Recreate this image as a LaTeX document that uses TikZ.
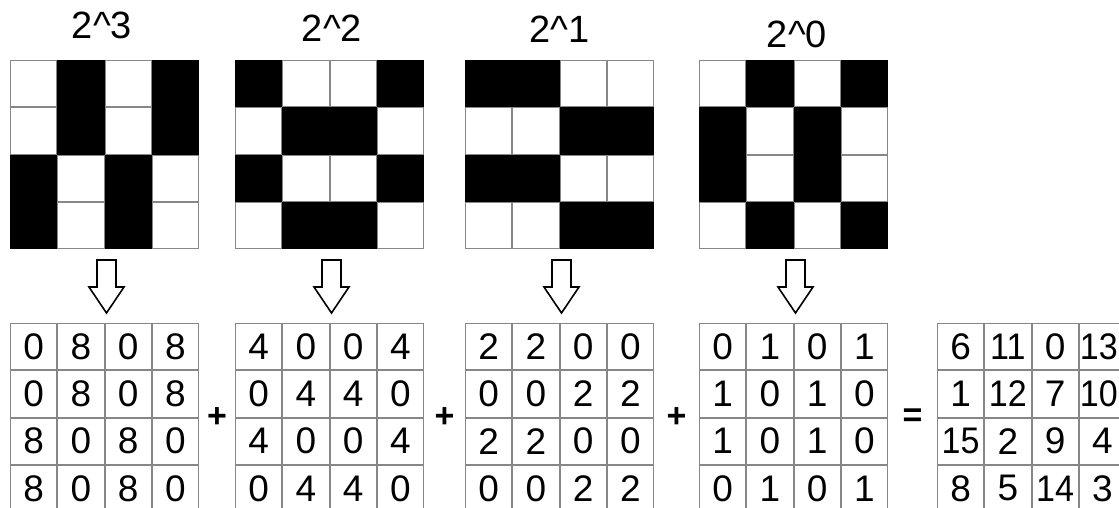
\documentclass[tikz,border=0pt]{standalone}
\usepackage{fontspec}
\setmainfont{Liberation Sans}
\newfontfamily\narrowfont{Liberation Sans}[FakeStretch=0.92]
\usetikzlibrary{positioning,calc,matrix}
\definecolor{gridgray}{RGB}{135,135,135}
\tikzset{
  cellgrid/.style={matrix of nodes, ampersand replacement=\amp, nodes in empty cells,
                   row sep=0pt, column sep=0pt, inner sep=0pt, outer sep=0pt,
                   nodes={draw=gridgray, line width=0.9pt, minimum width=46.35pt,
                          minimum height=46.35pt, inner sep=0pt, outer sep=0pt,
                          anchor=center, font=\fontsize{37}{37}\selectfont}},
  bitgrid/.style={cellgrid},
  numgrid/.style={cellgrid},
  on/.style={fill=black, draw=black},
  dd/.style={font=\narrowfont\fontsize{37}{37}\selectfont},
  ddr/.style={dd, execute at begin node={\kern-7pt}},
  powlbl/.style={font=\fontsize{38}{38}\selectfont, anchor=base, inner sep=0pt},
  op/.style={font=\bfseries\fontsize{34}{34}\selectfont, inner sep=0pt},
  blockarrow/.style={draw=black, fill=white, line width=1.6pt, line join=miter}
}

\begin{document}
\begin{tikzpicture}[x=1pt, y=-1pt]
\useasboundingbox (0,0) rectangle (1119,508);
\clip (0,0) rectangle (1119,508);
% bit planes
\matrix (t1) [bitgrid, anchor=north west, at={(10,60)}] {
  \amp |[on]| \amp \amp |[on]| \\
  \amp |[on]| \amp \amp |[on]| \\
  |[on]| \amp \amp |[on]| \amp \\
  |[on]| \amp \amp |[on]| \amp \\
};
\matrix (t2) [bitgrid, anchor=north west, at={($(t1.north east)+(36,0)$)}] {
  |[on]| \amp \amp \amp |[on]| \\
  \amp |[on]| \amp |[on]| \amp \\
  |[on]| \amp \amp \amp |[on]| \\
  \amp |[on]| \amp |[on]| \amp \\
};
\matrix (t3) [bitgrid, anchor=north west, at={($(t2.north east)+(41,0)$)}] {
  |[on]| \amp |[on]| \amp \amp \\
  \amp \amp |[on]| \amp |[on]| \\
  |[on]| \amp |[on]| \amp \amp \\
  \amp \amp |[on]| \amp |[on]| \\
};
\matrix (t4) [bitgrid, anchor=north west, at={($(t3.north east)+(45,0)$)}] {
  \amp |[on]| \amp \amp |[on]| \\
  |[on]| \amp \amp |[on]| \amp \\
  |[on]| \amp \amp |[on]| \amp \\
  \amp |[on]| \amp \amp |[on]| \\
};
\node[powlbl] (p3) at ($(t1.north)+(-2.5,-21)$) {2\textasciicircum 3};
\node[powlbl] (p2) at ($(t2.north)+(2.5,-18)$) {2\textasciicircum 2};
\node[powlbl] (p1) at ($(t3.north)+(0,-17)$) {2\textasciicircum 1};
\node[powlbl] (p0) at ($(t4.north)+(3.5,-12)$) {2\textasciicircum 0};
% weighted values
\matrix (b1) [numgrid, anchor=north west, at={($(t1.south west)+(0,74)$)}] {
  0 \amp 8 \amp 0 \amp 8 \\
  0 \amp 8 \amp 0 \amp 8 \\
  8 \amp 0 \amp 8 \amp 0 \\
  8 \amp 0 \amp 8 \amp 0 \\
};
\matrix (b2) [numgrid, anchor=north west, at={($(t2.south west)+(0,74)$)}] {
  4 \amp 0 \amp 0 \amp 4 \\
  0 \amp 4 \amp 4 \amp 0 \\
  4 \amp 0 \amp 0 \amp 4 \\
  0 \amp 4 \amp 4 \amp 0 \\
};
\matrix (b3) [numgrid, anchor=north west, at={($(t3.south west)+(0,74)$)}] {
  2 \amp 2 \amp 0 \amp 0 \\
  0 \amp 0 \amp 2 \amp 2 \\
  2 \amp 2 \amp 0 \amp 0 \\
  0 \amp 0 \amp 2 \amp 2 \\
};
\matrix (b4) [numgrid, anchor=north west, at={($(t4.south west)+(0,74)$)}] {
  0 \amp 1 \amp 0 \amp 1 \\
  1 \amp 0 \amp 1 \amp 0 \\
  1 \amp 0 \amp 1 \amp 0 \\
  0 \amp 1 \amp 0 \amp 1 \\
};
\matrix (b5) [numgrid, anchor=north west, at={($(b4.north east)+(49,0)$)}] {
  6 \amp |[dd]| 11 \amp 0 \amp |[ddr]| 13 \\
  1 \amp |[dd]| 12 \amp 7 \amp |[ddr]| 10 \\
  |[dd]| 15 \amp 2 \amp 9 \amp 4 \\
  8 \amp 5 \amp |[dd]| 14 \amp 3 \\
};
% hollow arrows
\foreach \i in {1,...,4}{
  \draw[blockarrow] ($(t\i.south)+(-7.5,11)$) -- ++(19,0) -- ++(0,27) -- ++(8,0)
    -- ($(t\i.south |- b\i.north)+(2,-10)$) -- ($(t\i.south)+(-15.5,38)$) -- ++(8,0) -- cycle;
}
\node[op] (s1) at ($(b1.east)!0.5!(b2.west)$) {+};
\node[op] (s2) at ($(b2.east)!0.5!(b3.west)$) {+};
\node[op] (s3) at ($(b3.east)!0.5!(b4.west)$) {+};
\node[op] (eq) at ($(b4.east)!0.5!(b5.west)$) {=};
\end{tikzpicture}
\end{document}
